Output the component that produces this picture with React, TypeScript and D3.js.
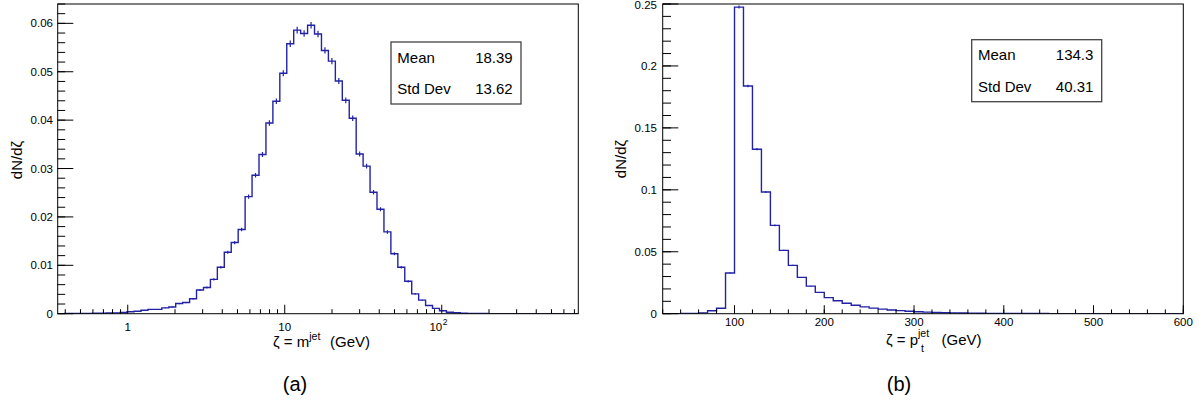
import React from "react";
import * as d3 from "d3";

// ---------- data ----------
const massRange = [0.358, 741]; // GeV, log-spaced bins
const massValues = [
  0.00002, 0.00003, 0.00004, 0.00005, 0.00006, 0.00008, 0.0001, 0.00013, 0.00017, 0.00025,
  0.0004, 0.0005, 0.0007, 0.0009, 0.0009, 0.0012, 0.0014, 0.0021, 0.0023, 0.0031,
  0.0049, 0.0054, 0.0071, 0.0096, 0.0127, 0.0147, 0.0174, 0.0242, 0.0286, 0.0329,
  0.0394, 0.0439, 0.0497, 0.0558, 0.0586, 0.0579, 0.0596, 0.0578, 0.0544, 0.0522,
  0.0481, 0.0441, 0.0404, 0.033, 0.0305, 0.0251, 0.0216, 0.0169, 0.0124, 0.0096,
  0.0067, 0.0041, 0.0028, 0.0017, 0.0011, 0.0006, 0.0003, 0.0002, 0.0001, 0.00006,
  0.00004, 0.00003, 0.00002, 0.00001, 0.00001, 0, 0, 0, 0, 0,
  0, 0, 0, 0, 0,
];
const ptRange = [20, 600];
const ptValues = [
  0.0001, 0.0001, 0.0002, 0.0003, 0.0007, 0.0024, 0.0044, 0.0328, 0.2475, 0.1838,
  0.1328, 0.0982, 0.0713, 0.0511, 0.039, 0.0293, 0.0223, 0.0172, 0.013, 0.0105,
  0.0084, 0.0068, 0.0055, 0.0045, 0.0037, 0.003, 0.0025, 0.002, 0.0016, 0.0013,
  0.0011, 0.0009, 0.0007, 0.0006, 0.0005, 0.0004, 0.0003, 0.0003, 0.0002, 0.0002,
  0.0002, 0.00015, 0.00015, 0.0001, 0.0001, 0.0001, 0.00008, 0.00007, 0.00006, 0.00005,
  0.00005, 0.00004, 0.00004, 0.00003, 0.00003, 0.00003, 0.00002, 0.00002,
];
const massYMax = 0.064;
const ptYMax = 0.25;
const massYTicks = [0, 0.01, 0.02, 0.03, 0.04, 0.05, 0.06];
const massYLabels = ["0", "0.01", "0.02", "0.03", "0.04", "0.05", "0.06"];
const ptYTicks = [0, 0.05, 0.1, 0.15, 0.2, 0.25];
const ptYLabels = ["0", "0.05", "0.1", "0.15", "0.2", "0.25"];
const massXTicks = [1, 10, 100];
const ptXTicks = [100, 200, 300, 400, 500, 600];
const massStats = { mean: "18.39", std: "13.62" };
const ptStats = { mean: "134.3", std: "40.31" };

const FONT = "'Liberation Sans', Arial, Helvetica, sans-serif";
const LINE = "#2222a6";

const T = 4, B = 313.7;

function Hist({ edges, values, x, y, errK }) {
  const pts: [number, number][] = [];
  values.forEach((v, i) => {
    pts.push([x(edges[i]), y(v)]);
    pts.push([x(edges[i + 1]), y(v)]);
  });
  const line = d3.line();
  return (
    <g>
      <path d={line(pts) || ""} fill="none" stroke={LINE} strokeWidth={1.4} />
      {values.map((v, i) => {
        if (v <= 0) return null;
        const e = errK * Math.sqrt(v);
        const cx = (x(edges[i]) + x(edges[i + 1])) / 2;
        return (
          <line key={i} x1={cx} x2={cx} y1={y(v + e)} y2={y(Math.max(0, v - e))}
            stroke={LINE} strokeWidth={1.2} />
        );
      })}
    </g>
  );
}

function StatBox({ x0, y0, stats }) {
  return (
    <g fontFamily={FONT} fontSize={15} fill="#000">
      <rect x={x0} y={y0} width={130} height={62} fill="#fff" stroke="#444" strokeWidth={1.3} />
      <text x={x0 + 6.3} y={y0 + 20.7}>Mean</text>
      <text x={x0 + 121.7} y={y0 + 20.7} textAnchor="end">{stats.mean}</text>
      <text x={x0 + 6.3} y={y0 + 52.4}>Std Dev</text>
      <text x={x0 + 121.7} y={y0 + 52.4} textAnchor="end">{stats.std}</text>
    </g>
  );
}

function MassPlot() {
  const L = 57.7, R = 578.3;
  const x = d3.scaleLog().domain(massRange).range([L, R]);
  const y = d3.scaleLinear().domain([0, massYMax]).range([B, T]);
  const n = massValues.length;
  const l0 = Math.log10(massRange[0]), l1 = Math.log10(massRange[1]);
  const edges = d3.range(n + 1).map((i) => Math.pow(10, l0 + ((l1 - l0) * i) / n));
  const minorX: number[] = [];
  [0.1, 1, 10, 100].forEach((d) => {
    for (let k = 2; k <= 9; k++) {
      const v = d * k;
      if (v >= massRange[0] && v <= massRange[1]) minorX.push(v);
    }
  });
  const minorY = d3.range(0, massYMax + 1e-9, 0.002);
  return (
    <g>
      <defs>
        <clipPath id="clipA"><rect x={L} y={T} width={R - L} height={B - T} /></clipPath>
      </defs>
      <g clipPath="url(#clipA)">
        <Hist edges={edges} values={massValues} x={x} y={y} errK={0.0028} />
      </g>
      <rect x={L} y={T} width={R - L} height={B - T} fill="none" stroke="#000" strokeWidth={1} />
      {minorY.map((v, i) => (
        <line key={"my" + i} x1={L} x2={L + 7.5} y1={y(v)} y2={y(v)} stroke="#000" />
      ))}
      {massYTicks.map((v, i) => (
        <g key={"My" + i}>
          <line x1={L} x2={L + 15.6} y1={y(v)} y2={y(v)} stroke="#000" />
          <text x={53} y={y(v) + 4} textAnchor="end" fontFamily={FONT} fontSize={11.5}>{massYLabels[i]}</text>
        </g>
      ))}
      {minorX.map((v, i) => (
        <line key={"mx" + i} x1={x(v)} x2={x(v)} y1={B} y2={B - 4.5} stroke="#000" />
      ))}
      {massXTicks.map((v, i) => (
        <line key={"Mx" + i} x1={x(v)} x2={x(v)} y1={B} y2={B - 9} stroke="#000" />
      ))}
      <text x={x(1)} y={330.5} textAnchor="middle" fontFamily={FONT} fontSize={11.5}>1</text>
      <text x={x(10)} y={330.5} textAnchor="middle" fontFamily={FONT} fontSize={11.5}>10</text>
      <text x={x(100) + 0.5} y={330.5} textAnchor="end" fontFamily={FONT} fontSize={11.5}>10</text>
      <text x={x(100) + 1} y={325} fontFamily={FONT} fontSize={8.5}>2</text>
      <text fontFamily={FONT} fontSize={15} x={273} y={346.5}>
        ζ = m
        <tspan fontSize={10.5} dy={-7}>jet</tspan>
        <tspan x={330} dy={7}>(GeV)</tspan>
      </text>
      <text transform="translate(22,160) rotate(-90)" textAnchor="middle" fontFamily={FONT} fontSize={15}>dN/dζ</text>
      <StatBox x0={391} y0={42} stats={massStats} />
      <text x={295} y={391} textAnchor="middle" fontFamily={FONT} fontSize={20}>(a)</text>
    </g>
  );
}

function PtPlot() {
  const L = 662.7, R = 1183.3;
  const x = d3.scaleLinear().domain(ptRange).range([L, R]);
  const y = d3.scaleLinear().domain([0, ptYMax]).range([B, T]);
  const n = ptValues.length;
  const w = (ptRange[1] - ptRange[0]) / n;
  const edges = d3.range(n + 1).map((i) => ptRange[0] + i * w);
  const minorX = d3.range(20, 601, 20);
  const minorY = d3.range(0, ptYMax + 1e-9, 0.01);
  return (
    <g>
      <defs>
        <clipPath id="clipB"><rect x={L} y={T} width={R - L} height={B - T} /></clipPath>
      </defs>
      <g clipPath="url(#clipB)">
        <Hist edges={edges} values={ptValues} x={x} y={y} errK={0.0024} />
      </g>
      <rect x={L} y={T} width={R - L} height={B - T} fill="none" stroke="#000" strokeWidth={1} />
      {minorY.map((v, i) => (
        <line key={"my" + i} x1={L} x2={L + 8.3} y1={y(v)} y2={y(v)} stroke="#000" />
      ))}
      {ptYTicks.map((v, i) => (
        <g key={"My" + i}>
          <line x1={L} x2={L + 15.6} y1={y(v)} y2={y(v)} stroke="#000" />
          <text x={657} y={Math.max(y(v) + 4, 9)} textAnchor="end" fontFamily={FONT} fontSize={11.5}>{ptYLabels[i]}</text>
        </g>
      ))}
      {minorX.map((v, i) => (
        <line key={"mx" + i} x1={x(v)} x2={x(v)} y1={B} y2={B - 4.3} stroke="#000" />
      ))}
      {ptXTicks.map((v, i) => (
        <g key={"Mx" + i}>
          <line x1={x(v)} x2={x(v)} y1={B} y2={B - 8.5} stroke="#000" />
          <text x={x(v)} y={326} textAnchor="middle" fontFamily={FONT} fontSize={11.5}>{v}</text>
        </g>
      ))}
      <text fontFamily={FONT} fontSize={15} x={886} y={345}>ζ = p</text>
      <text fontFamily={FONT} fontSize={10.5} x={918} y={337}>jet</text>
      <text fontFamily={FONT} fontSize={10.5} x={921} y={352}>t</text>
      <text fontFamily={FONT} fontSize={15} x={941.5} y={345}>(GeV)</text>
      <text transform="translate(626,159) rotate(-90)" textAnchor="middle" fontFamily={FONT} fontSize={15}>dN/dζ</text>
      <StatBox x0={971.7} y0={39.7} stats={ptStats} />
      <text x={899} y={391} textAnchor="middle" fontFamily={FONT} fontSize={20}>(b)</text>
    </g>
  );
}

export default function App() {
  return (
    <svg width={1199} height={401} viewBox="0 0 1199 401"
      style={{ position: "absolute", left: 0, top: 0, background: "#fff" }}>
      <rect width={1199} height={401} fill="#fff" />
      <MassPlot />
      <PtPlot />
    </svg>
  );
}
